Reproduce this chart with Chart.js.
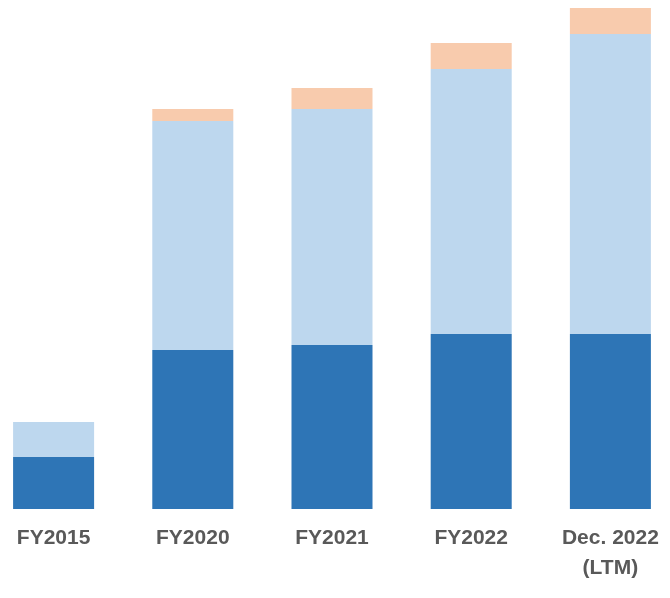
<!DOCTYPE html>
<html>
<head>
<meta charset="utf-8">
<script src="https://cdn.jsdelivr.net/npm/chart.js@4"></script>
<style>
    html, body { margin: 0; padding: 0; background: #fff; overflow: hidden; }
    body { width: 670px; height: 598px; position: relative; }
    #marco { position: absolute; left: -16px; top: 0; width: 696px; height: 598px; }
</style>
</head>
<body>
<div id="marco"><canvas id="grafico"></canvas></div>
<script>
// Categorias y valores (unidades relativas)
const categorias = ["FY2015", "FY2020", "FY2021", "FY2022", ["Dec. 2022", "(LTM)"]];
const serieBase   = [52, 159, 164, 175, 175];
const serieMedia  = [35, 229, 236, 265, 300];
const serieSuperior = [0, 12, 21, 26, 26];
const ejeMaximo = 509;

const barra = { borderWidth: 0, barPercentage: 0.582, categoryPercentage: 1 };

new Chart(document.getElementById("grafico").getContext("2d"), {
    type: "bar",
    data: {
        labels: categorias,
        datasets: [
            { label: "Base", data: serieBase, backgroundColor: "#2E75B6", ...barra },
            { label: "Media", data: serieMedia, backgroundColor: "#BDD7EE", ...barra },
            { label: "Superior", data: serieSuperior, backgroundColor: "#F8CBAD", ...barra },
        ],
    },
    options: {
        responsive: true,
        maintainAspectRatio: false,
        animation: false,
        layout: { padding: { top: 0, left: 0, right: 0, bottom: 9 } },
        plugins: { legend: { display: false }, tooltip: { enabled: false } },
        scales: {
            x: {
                stacked: true,
                grid: { display: false },
                border: { display: false },
                ticks: {
                    color: "#595959",
                    padding: 6,
                    maxRotation: 0,
                    autoSkip: false,
                    font: { family: "'Liberation Sans Narrow', 'Liberation Sans', Arial", size: 21, weight: "bold", lineHeight: 1.43 },
                },
            },
            y: { stacked: true, display: false, min: 0, max: ejeMaximo },
        },
    },
});
</script>
</body>
</html>
